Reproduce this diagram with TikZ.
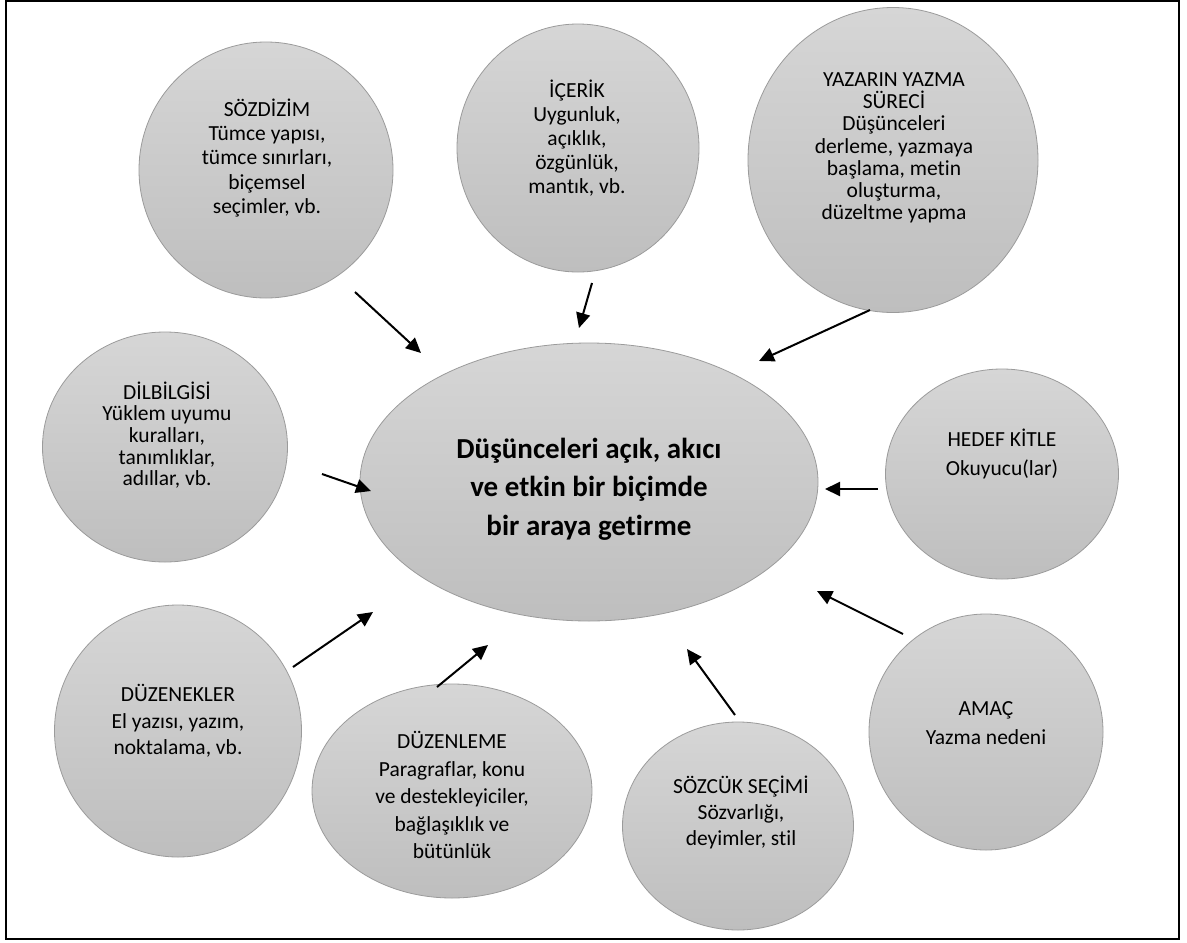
\documentclass[tikz,border=0pt]{standalone}
\usepackage{fontspec}
\setmainfont{Carlito}[Ligatures={NoCommon}]
\usetikzlibrary{shapes.geometric,arrows.meta}
\definecolor{topgray}{RGB}{214,214,214}
\definecolor{botgray}{RGB}{190,190,190}
\definecolor{edgegray}{RGB}{155,155,155}
\tikzset{
  bub/.style={ellipse, draw=edgegray, line width=0.8pt, top color=topgray, bottom color=botgray, inner sep=0pt},
  txt/.style={align=center, inner sep=0pt, text=black, font=\fontsize{21.5}{26}\selectfont},
  arr/.style={line width=2pt, -{Triangle[length=15pt,width=14pt]}},
  frame/.style={draw=black, line width=2pt}
}
\begin{document}
\begin{tikzpicture}[x=1pt,y=-1pt]
\useasboundingbox (0,0) rectangle (1187,943);
\draw[frame] (6,1) rectangle (1179,939);

% bubbles
\node[bub, minimum width=254, minimum height=256] (soz) at (266,170) {};
\node[bub, minimum width=242, minimum height=248] (ice) at (578,148) {};
\node[bub, minimum width=290, minimum height=305] (yaz) at (893,160) {};
\node[bub, minimum width=245, minimum height=230] (dil) at (165,447) {};
\node[bub, minimum width=458, minimum height=278] (mer) at (589,482) {};
\node[bub, minimum width=233, minimum height=210] (hed) at (1002,474) {};
\node[bub, minimum width=247, minimum height=252] (duz) at (178,731) {};
\node[bub, minimum width=280, minimum height=214] (dle) at (452,791) {};
\node[bub, minimum width=231, minimum height=208] (sec) at (738,826) {};
\node[bub, minimum width=234, minimum height=236] (ama) at (986,732) {};

% texts
\node[txt, font=\fontsize{21.5}{24.3}\selectfont] (sozT) at (267,158) {SÖZDİZİM\\Tümce yapısı,\\tümce sınırları,\\biçemsel\\seçimler, vb.};
\node[txt, font=\fontsize{21.5}{24}\selectfont] (iceT) at (577,138) {İÇERİK\\Uygunluk,\\açıklık,\\özgünlük,\\mantık, vb.};
\node[txt, font=\fontsize{21.5}{22.2}\selectfont] (yazT) at (894,148) {YAZARIN YAZMA\\SÜRECİ\\Düşünceleri\\derleme, yazmaya\\başlama, metin\\oluşturma,\\düzeltme yapma};
\node[txt, font=\fontsize{21.5}{21.7}\selectfont] (dilT) at (167,435) {DİLBİLGİSİ\\Yüklem uyumu\\kuralları,\\tanımlıklar,\\adıllar, vb.};
\node[txt, font=\bfseries\fontsize{29}{38.5}\selectfont] (merT) at (589,489) {Düşünceleri açık, akıcı\\ve etkin bir biçimde\\bir araya getirme};
\node[txt, font=\fontsize{21.5}{29}\selectfont] (hedT) at (1002,454) {HEDEF KİTLE\\Okuyucu(lar)};
\node[txt, font=\fontsize{21.5}{26.5}\selectfont] (duzT) at (178,721) {DÜZENEKLER\\El yazısı, yazım,\\noktalama, vb.};
\node[txt, font=\fontsize{21.5}{27.5}\selectfont] (dleT) at (452,795) {DÜZENLEME\\Paragraflar, konu\\ve destekleyiciler,\\bağlaşıklık ve\\bütünlük};
\node[txt, font=\fontsize{21.5}{26}\selectfont] (secT) at (741,812) {SÖZCÜK SEÇİMİ\\Sözvarlığı,\\deyimler, stil};
\node[txt, font=\fontsize{21.5}{29}\selectfont] (amaT) at (986,723) {AMAÇ\\Yazma nedeni};

% arrow end points
\coordinate (s1) at (355,292); \coordinate (e1) at (421,353);
\coordinate (s2) at (592,283); \coordinate (e2) at (579,328);
\coordinate (s3) at (870,310); \coordinate (e3) at (759,361);
\coordinate (s4) at (878,489); \coordinate (e4) at (825,489);
\coordinate (s5) at (903,634); \coordinate (e5) at (817,591);
\coordinate (s6) at (735,715); \coordinate (e6) at (687,649);
\coordinate (s7) at (437,687); \coordinate (e7) at (488,645);
\coordinate (s8) at (293,667); \coordinate (e8) at (373,612);
\coordinate (s9) at (322,474); \coordinate (e9) at (371,491);

\draw[arr] (s1) -- (e1);
\draw[arr] (s2) -- (e2);
\draw[arr] (s3) -- (e3);
\draw[arr] (s4) -- (e4);
\draw[arr] (s5) -- (e5);
\draw[arr] (s6) -- (e6);
\draw[arr] (s7) -- (e7);
\draw[arr] (s8) -- (e8);
\draw[arr] (s9) -- (e9);
\end{tikzpicture}
\end{document}
